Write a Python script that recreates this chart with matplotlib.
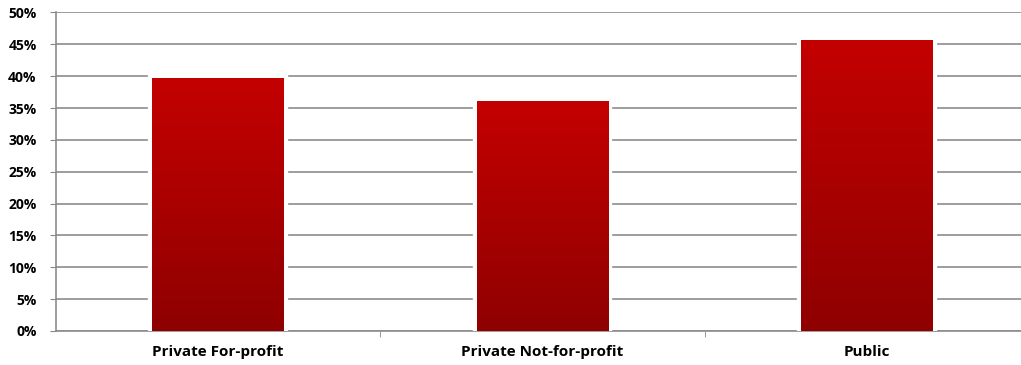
import numpy as np
import matplotlib.pyplot as plt
from matplotlib.colors import LinearSegmentedColormap

# share of each institution type
categories = ["Private For-profit", "Private Not-for-profit", "Public"]
shares = [39.6, 36.0, 45.6]
yticks = [0, 5, 10, 15, 20, 25, 30, 35, 40, 45, 50]

plt.rcParams["font.family"] = ["Open Sans", "DejaVu Sans"]

fig = plt.figure(figsize=(10.21, 3.65), dpi=100)
ax = fig.add_axes([56 / 1021, 34 / 365, 973 / 1021, 318.5 / 365])

x = np.arange(len(categories))
width = 0.405
grad = LinearSegmentedColormap.from_list("bar", ["#8f0000", "#c40000"])

bars = ax.bar(x, shares, width=width, color="none", edgecolor="white",
              linewidth=6, zorder=3)
for b in bars:
    x0, y0 = b.get_x(), b.get_y()
    w, h = b.get_width(), b.get_height()
    # soft shadow behind the bar
    ax.bar(x0 + w / 2 + 0.004, h, width=w, bottom=-0.25, color="#000000",
           alpha=0.12, zorder=2.5, linewidth=0)
    img = np.linspace(0, 1, 256).reshape(-1, 1)
    ax.imshow(img, extent=[x0, x0 + w, y0, y0 + h], origin="lower",
              cmap=grad, aspect="auto", zorder=3.5, interpolation="bicubic")

ax.set_xlim(-0.5, len(categories) - 0.5)
ax.set_ylim(0, 50)
ax.set_yticks(yticks)
ax.set_yticklabels([f"{v}%" for v in yticks], fontsize=10, fontweight="bold")
ax.set_xticks(x)
ax.set_xticklabels(categories, fontsize=11, fontweight="bold")
ax.set_xticks([0.5, 1.5], minor=True)
ax.tick_params(axis="x", which="major", length=0, pad=10)
ax.tick_params(axis="x", which="minor", length=4, color="#888888", direction="out")
ax.tick_params(axis="y", length=4, color="#888888", pad=10)

ax.yaxis.grid(True, color="#8c8c8c", linewidth=1.2, zorder=0)
ax.set_axisbelow(True)
for side in ["top", "right"]:
    ax.spines[side].set_visible(False)
for side in ["left", "bottom"]:
    ax.spines[side].set_color("#8c8c8c")
    ax.spines[side].set_linewidth(1.2)

fig.savefig("out.png", dpi=100)
